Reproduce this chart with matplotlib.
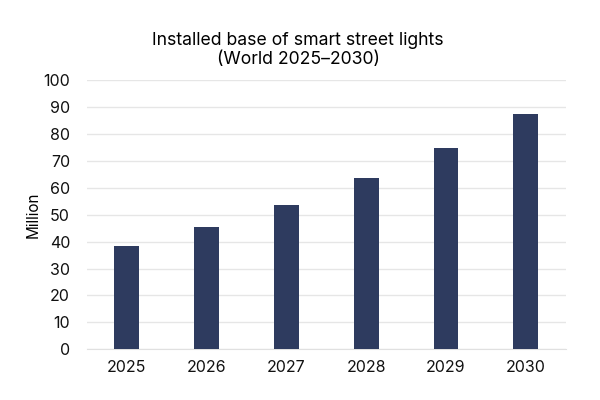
import matplotlib
matplotlib.use("Agg")
from matplotlib import pyplot as plt

years = ["2025", "2026", "2027", "2028", "2029", "2030"]
installed = [38.3, 45.6, 53.8, 63.6, 74.7, 87.6]

plt.rcParams['font.family'] = ['Inter', 'DejaVu Sans']

fig = plt.figure(figsize=(6, 4), dpi=100)
ax = fig.add_axes([0.1445, 0.127, 0.7985, 0.672])

ax.bar(range(len(years)), installed, width=0.31, color="#2e3b5f", zorder=3)
ax.set_xlim(-0.5, len(years) - 0.5)
ax.set_ylim(0, 100)
ax.set_yticks(range(0, 101, 10))
ax.set_xticks(range(len(years)))
ax.set_xticklabels(years)
ax.tick_params(axis="both", length=0, labelsize=11.5, colors="#111111")
ax.tick_params(axis="x", pad=8)
ax.tick_params(axis="y", pad=12)
ax.grid(axis="y", color="#e6e6e6", linewidth=1, zorder=0)
for s in ["top", "right", "left"]:
    ax.spines[s].set_visible(False)
ax.spines["bottom"].set_color("#e0e0e0")
ax.set_ylabel("Million", fontsize=11, labelpad=2)

fig.text(0.497, 0.875, "Installed base of smart street lights\n(World 2025\u20132030)",
         ha="center", va="center", fontsize=12.7, linespacing=1.2)

fig.savefig("out.png", dpi=100, facecolor="white")
